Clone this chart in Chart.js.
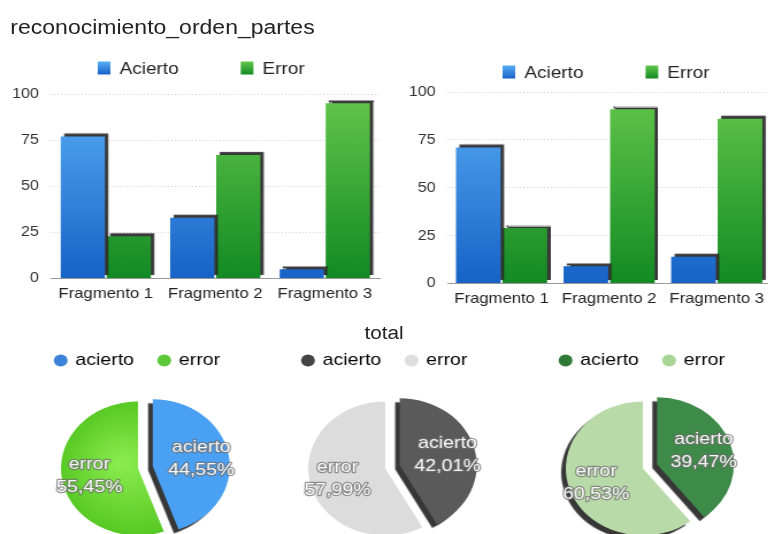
<!DOCTYPE html>
<html>
<head>
<meta charset="utf-8">
<script src="https://cdn.jsdelivr.net/npm/chart.js@4.4.0/dist/chart.umd.min.js"></script>
<style>
  body { margin: 0; width: 768px; height: 534px; overflow: hidden; position: relative; background: #fff;
         font-family: "Liberation Sans", Arial, sans-serif; }
  /* the whole sheet is drawn slightly wide */
  #page { position: absolute; left: 0; top: 0; width: 668px; height: 534px; transform: scaleX(1.15); transform-origin: 0 0; }
  .box { position: absolute; }
  #title { position: absolute; left: 9px; top: 16px; font-size: 20px; color: #222; }
  #total { position: absolute; left: 0; width: 668px; top: 323px; text-align: center; font-size: 18px; color: #222; }
</style>
</head>
<body>
<div id="page">
  <div id="title">reconocimiento_orden_partes</div>
  <div class="box" style="left:0;top:50px;width:334px;height:260px"><canvas id="bar1"></canvas></div>
  <div class="box" style="left:334px;top:54px;width:340px;height:261px"><canvas id="bar2"></canvas></div>
  <div id="total">total</div>
  <div class="box" style="left:9px;top:330px;width:222px;height:228px"><canvas id="pie1"></canvas></div>
  <div class="box" style="left:224px;top:330px;width:222px;height:228px"><canvas id="pie2"></canvas></div>
  <div class="box" style="left:448px;top:330px;width:222px;height:228px"><canvas id="pie3"></canvas></div>
</div>
<script>
Chart.defaults.font.family = '"Liberation Sans", Arial, sans-serif';

// values per fragment (percent)
const fragmentos = ['Fragmento 1', 'Fragmento 2', 'Fragmento 3'];
const aciertoIzq = [77, 33, 5];
const errorIzq = [23, 67, 95];
const aciertoDer = [71, 9, 14];
const errorDer = [29, 91, 86];
const yTicks = [0, 25, 50, 75, 100];

// pie totals
const pieLabels = ['acierto', 'error'];
const pieIzq = [44.55, 55.45];
const pieTotal = [42.01, 57.99];
const pieDer = [39.47, 60.53];

const AZUL = ['#58adf6', '#1762c6'];
const VERDE = ['#62c64a', '#138a24'];

function vGrad(c, top, bottom) {
  const area = c.chart.chartArea;
  if (!area) return bottom;
  const g = c.chart.ctx.createLinearGradient(0, area.top, 0, area.bottom);
  g.addColorStop(0, top);
  g.addColorStop(1, bottom);
  return g;
}

// dark edge on top/right of every bar
const barShadow = {
  id: 'barShadow',
  beforeDatasetsDraw(chart) {
    const ctx = chart.ctx;
    ctx.save();
    ctx.shadowColor = 'rgba(35,35,35,0.9)';
    ctx.shadowOffsetX = 3;
    ctx.shadowOffsetY = -3;
    ctx.shadowBlur = 1;
  },
  afterDatasetsDraw(chart) { chart.ctx.restore(); }
};

// square swatch legend with wide spacing between the two series
const barLegend = {
  id: 'barLegend',
  afterDraw(chart, args, opts) {
    const ctx = chart.ctx;
    ctx.save();
    ctx.font = '16.5px "Liberation Sans", Arial, sans-serif';
    ctx.textBaseline = 'middle';
    const items = chart.data.datasets.map((ds, i) => ({ text: ds.label, color: opts.colors[i] }));
    const widths = items.map(it => 11 + 8 + ctx.measureText(it.text).width);
    const total = widths.reduce((a, b) => a + b, 0) + opts.gap * (items.length - 1);
    let x = opts.cx - total / 2;
    items.forEach((it, i) => {
      const g = ctx.createLinearGradient(0, opts.y - 6.5, 0, opts.y + 6.5);
      g.addColorStop(0, it.color[0]);
      g.addColorStop(1, it.color[1]);
      ctx.fillStyle = g;
      ctx.fillRect(x, opts.y - 6.5, 11, 13);
      ctx.fillStyle = '#222';
      ctx.fillText(it.text, x + 19, opts.y + 1);
      x += widths[i] + opts.gap;
    });
    ctx.restore();
  }
};

function barChart(id, acierto, error, pad, legendX, catPct) {
  return new Chart(document.getElementById(id), {
    type: 'bar',
    data: {
      labels: fragmentos,
      datasets: [
        { label: 'Acierto', data: acierto, backgroundColor: c => vGrad(c, AZUL[0], AZUL[1]) },
        { label: 'Error', data: error, backgroundColor: c => vGrad(c, VERDE[0], VERDE[1]) }
      ]
    },
    options: {
      responsive: true,
      maintainAspectRatio: false,
      animation: false,
      categoryPercentage: catPct,
      barPercentage: 0.96,
      layout: { padding: pad },
      plugins: {
        legend: { display: false },
        tooltip: { enabled: false },
        barLegend: { cx: legendX, y: 18, gap: 54, colors: [AZUL, VERDE] }
      },
      scales: {
        x: {
          grid: { display: false, drawTicks: false },
          border: { color: '#999' },
          ticks: { font: { size: 14.5 }, color: '#222', padding: 7 }
        },
        y: {
          min: 0, max: 100,
          afterBuildTicks: axis => { axis.ticks = yTicks.map(v => ({ value: v })); },
          grid: { color: '#d4d4d4', drawTicks: false },
          border: { display: false, dash: [1, 2] },
          ticks: { font: { size: 14 }, color: '#333', padding: 10.5 }
        }
      }
    },
    plugins: [barShadow, barLegend]
  });
}

// pulls the chosen slices out and gives them a dark edge
const pieStyle = {
  id: 'pieStyle',
  beforeDatasetDraw(chart, args, opts) {
    args.meta.data.forEach((arc, i) => {
      if (arc._wrapped) return;
      const orig = arc.draw.bind(arc);
      arc.draw = function (ctx) {
        ctx.save();
        const d = opts.shift[i] || 0;
        const mid = (this.startAngle + this.endAngle) / 2;
        ctx.translate(Math.cos(mid) * d, Math.sin(mid) * d);
        if (opts.shadow.includes(i)) {
          ctx.shadowColor = 'rgba(20,20,20,0.85)';
          ctx.shadowOffsetX = -4;
          ctx.shadowOffsetY = 4;
          ctx.shadowBlur = 1;
        }
        orig(ctx);
        ctx.restore();
      };
      arc._wrapped = true;
    });
  },
  // label + percentage inside each slice
  afterDatasetsDraw(chart, args, opts) {
    const ctx = chart.ctx;
    const meta = chart.getDatasetMeta(0);
    const values = chart.data.datasets[0].data;
    ctx.save();
    ctx.font = '17px "Liberation Sans", Arial, sans-serif';
    ctx.textAlign = 'center';
    ctx.textBaseline = 'middle';
    ctx.lineJoin = 'round';
    meta.data.forEach((arc, i) => {
      const mid = (arc.startAngle + arc.endAngle) / 2;
      const r = arc.outerRadius * 0.64 + (opts.shift[i] || 0);
      const x = arc.x + Math.cos(mid) * r;
      const y = arc.y + Math.sin(mid) * r;
      const lines = [chart.data.labels[i], values[i].toFixed(2).replace('.', ',') + '%'];
      lines.forEach((t, k) => {
        const ty = y + (k - 0.5) * 23;
        ctx.strokeStyle = 'rgba(110,110,110,0.7)';
        ctx.lineWidth = 2.5;
        ctx.strokeText(t, x, ty);
        ctx.fillStyle = 'rgba(255,255,255,0.95)';
        ctx.fillText(t, x, ty);
      });
    });
    ctx.restore();
  }
};

function radial(inner, outer) {
  return c => {
    const a = c.chart.chartArea;
    if (!a) return outer;
    const cx = (a.left + a.right) / 2, cy = (a.top + a.bottom) / 2;
    const g = c.chart.ctx.createRadialGradient(cx - 15, cy - 5, 5, cx, cy, 75);
    g.addColorStop(0, inner);
    g.addColorStop(1, outer);
    return g;
  };
}

function pieChart(id, values, slices, legendColors, shadowIdx) {
  return new Chart(document.getElementById(id), {
    type: 'pie',
    data: {
      labels: pieLabels,
      datasets: [{
        data: values,
        backgroundColor: c => {
          const v = slices[c.dataIndex];
          return typeof v === 'function' ? v(c) : v;
        },
        borderWidth: 0,
        radius: 67,
        clip: false
      }]
    },
    options: {
      responsive: true,
      maintainAspectRatio: false,
      animation: false,
      plugins: {
        legend: {
          labels: {
            usePointStyle: true, pointStyle: 'circle', boxWidth: 8.5, boxHeight: 8.5,
            padding: 22, font: { size: 17 }, color: '#555',
            generateLabels: () => pieLabels.map((t, i) => ({
              text: t, fillStyle: legendColors[i], strokeStyle: legendColors[i],
              lineWidth: 0, pointStyle: 'circle', index: i
            }))
          }
        },
        tooltip: { enabled: false },
        pieStyle: { shift: [13, 0], shadow: shadowIdx }
      }
    },
    plugins: [pieStyle]
  });
}

barChart('bar1', aciertoIzq, errorIzq, { top: 44, left: 0, right: 4 }, 175, 0.84);
barChart('bar2', aciertoDer, errorDer, { top: 38, left: 11, right: 4 }, 193, 0.865);
pieChart('pie1', pieIzq, ['#4aa0f2', radial('#88ea4c', '#50c41f')], ['#3b82d8', '#5cc83a'], [0]);
pieChart('pie2', pieTotal, ['#5a5a5a', '#dcdcdc'], ['#444', '#dedede'], [0]);
pieChart('pie3', pieDer, ['#3e8a48', '#b8daa8'], ['#2f7a37', '#a9d697'], [0, 1]);
</script>
</body>
</html>
